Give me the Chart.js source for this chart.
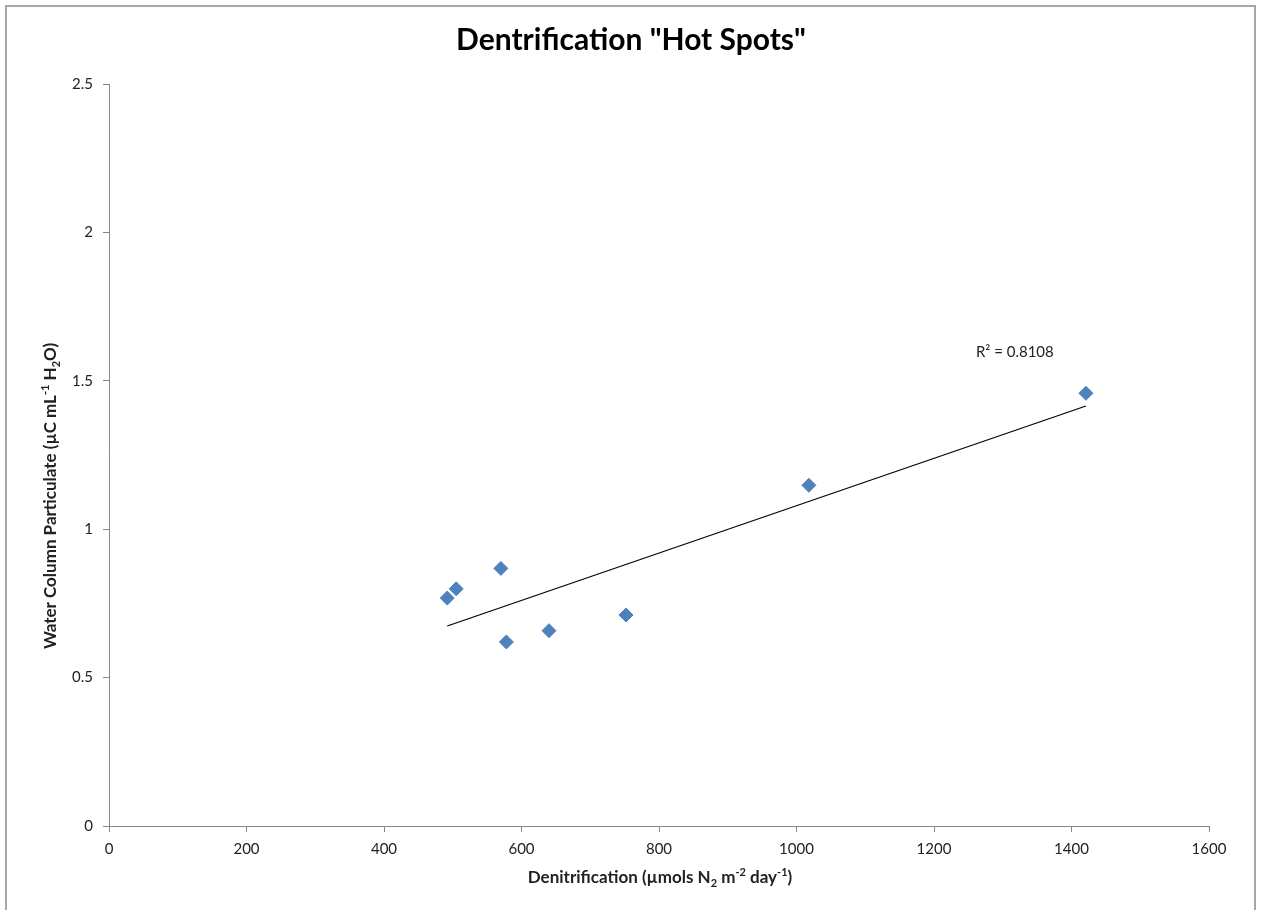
<!DOCTYPE html>
<html>
<head>
<meta charset="utf-8">
<script src="https://cdn.jsdelivr.net/npm/chart.js@4.4.1/dist/chart.umd.min.js"></script>
<style>
  html, body { margin: 0; padding: 0; background: #fff; }
  #wrap { position: relative; width: 1262px; height: 910px; }
</style>
</head>
<body>
<div id="wrap"><canvas id="c" width="1262" height="910"></canvas></div>
<script>
// Data
const denitrification = [492, 505, 570, 578, 640, 752, 1018, 1421];
const particulate     = [0.768, 0.799, 0.868, 0.620, 0.658, 0.711, 1.148, 1.458];
const trendX = [492, 1421];
const trendY = [0.674, 1.415];
const xTicks = [0, 200, 400, 600, 800, 1000, 1200, 1400, 1600];
const yTicks = [0, 0.5, 1, 1.5, 2, 2.5];
const chartTitle = 'Dentrification "Hot Spots"';
const rSquaredLabel = 'R² = 0.8108';
const rLabelPos = [1261, 1.597];
// axis titles: [text, shift] where shift 1 = superscript, -1 = subscript
const xTitleParts = [['Denitrification (µmols N', 0], ['2', -1], [' m', 0], ['-2', 1], [' day', 0], ['-1', 1], [')', 0]];
const yTitleParts = [['Water Column Particulate (µC mL', 0], ['-1', 1], [' H', 0], ['2', -1], ['O)', 0]];

const FONT = 'Lato, "Open Sans", "DejaVu Sans", sans-serif';
const TITLE_SIZE = 17, SMALL_SIZE = 11;

function drawParts(ctx, parts, cx, baseline) {
  const big = 'bold ' + TITLE_SIZE + 'px ' + FONT;
  const small = 'bold ' + SMALL_SIZE + 'px ' + FONT;
  let total = 0;
  parts.forEach(([t, s]) => { ctx.font = s ? small : big; total += ctx.measureText(t).width; });
  let x = cx - total / 2;
  ctx.textAlign = 'left';
  ctx.textBaseline = 'alphabetic';
  parts.forEach(([t, s]) => {
    ctx.font = s ? small : big;
    const dy = s === 1 ? -7 : (s === -1 ? 4 : 0);
    ctx.fillText(t, x, baseline + dy);
    x += ctx.measureText(t).width;
  });
}

const frame = {
  id: 'frame',
  beforeDraw(chart) {
    const ctx = chart.ctx;
    ctx.save();
    ctx.fillStyle = '#fff';
    ctx.fillRect(0, 0, chart.width, chart.height);
    ctx.strokeStyle = '#a6a6a6';
    ctx.lineWidth = 2;
    ctx.strokeRect(6, 6, 1249, 1000);
    ctx.restore();
  },
  afterDatasetsDraw(chart) {
    const ctx = chart.ctx;
    const xs = chart.scales.x, ys = chart.scales.y;
    const area = chart.chartArea;
    ctx.save();
    ctx.font = '15px ' + FONT;
    ctx.fillStyle = '#222';
    ctx.textBaseline = 'middle';
    ctx.textAlign = 'left';
    ctx.fillText(rSquaredLabel, xs.getPixelForValue(rLabelPos[0]), ys.getPixelForValue(rLabelPos[1]));
    // x axis title
    ctx.fillStyle = '#222';
    drawParts(ctx, xTitleParts, (area.left + area.right) / 2 + 1, 883);
    // y axis title (rotated)
    ctx.translate(56, 496);
    ctx.rotate(-Math.PI / 2);
    drawParts(ctx, yTitleParts, 0, 0);
    ctx.restore();
  }
};

const points = denitrification.map((x, i) => ({ x, y: particulate[i] }));
const trend = trendX.map((x, i) => ({ x, y: trendY[i] }));

new Chart(document.getElementById('c'), {
  type: 'scatter',
  data: {
    datasets: [
      {
        label: 'Trend',
        data: trend,
        showLine: true,
        borderColor: '#000',
        borderWidth: 1.2,
        pointRadius: 0,
        pointHoverRadius: 0,
        fill: false,
        order: 2
      },
      {
        label: 'Hot spots',
        data: points,
        pointStyle: 'rectRot',
        pointRadius: 7,
        pointHoverRadius: 7,
        backgroundColor: '#4F81BD',
        borderColor: '#4F81BD',
        borderWidth: 1,
        order: 1
      }
    ]
  },
  options: {
    responsive: false,
    animation: false,
    events: [],
    layout: { padding: 0 },
    plugins: {
      legend: { display: false },
      tooltip: { enabled: false },
      title: {
        display: true,
        text: chartTitle,
        color: '#000',
        font: { family: FONT, size: 30, weight: 'bold', lineHeight: 1.2 },
        padding: { top: 22, bottom: 26 }
      }
    },
    scales: {
      x: {
        type: 'linear',
        min: 0, max: 1600,
        afterBuildTicks(scale) { scale.ticks = xTicks.map(v => ({ value: v })); },
        afterFit(scale) { scale.height = 84; },
        ticks: {
          color: '#222',
          font: { family: FONT, size: 15 },
          padding: 8,
          maxRotation: 0,
          callback: v => String(v)
        },
        grid: { drawOnChartArea: false, drawTicks: true, tickLength: 6, color: '#868686' },
        border: { display: true, color: '#868686', width: 1 },
        title: { display: false }
      },
      y: {
        type: 'linear',
        min: 0, max: 2.5,
        afterBuildTicks(scale) { scale.ticks = yTicks.map(v => ({ value: v })); },
        afterFit(scale) { scale.width = 109; },
        ticks: {
          color: '#222',
          font: { family: FONT, size: 15 },
          padding: 10,
          callback: v => String(v)
        },
        grid: { drawOnChartArea: false, drawTicks: true, tickLength: 6, color: '#868686' },
        border: { display: true, color: '#868686', width: 1 },
        title: { display: false }
      },
      yPad: {
        type: 'linear',
        position: 'right',
        display: true,
        grid: { display: false, drawTicks: false },
        border: { display: false },
        ticks: { display: false },
        afterFit(scale) { scale.width = 53; }
      }
    }
  },
  plugins: [frame]
});
</script>
</body>
</html>
